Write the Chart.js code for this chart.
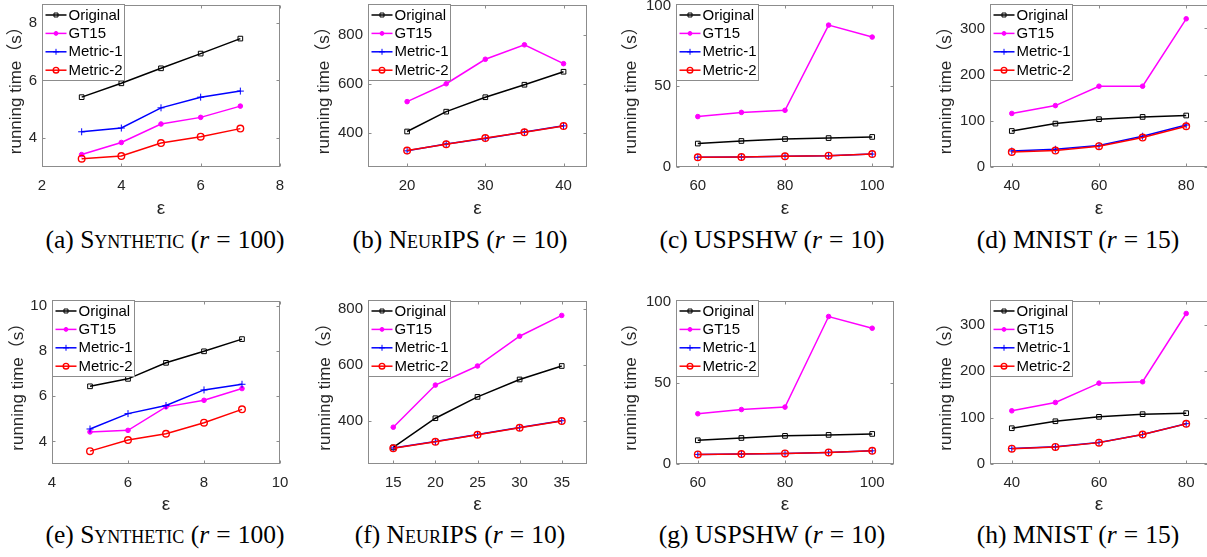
<!DOCTYPE html>
<html><head><meta charset="utf-8">
<script src="https://cdn.jsdelivr.net/npm/chart.js@4.4.0/dist/chart.umd.min.js"></script>
<style>
html,body{margin:0;padding:0;background:#fff;}
body{width:1207px;height:557px;overflow:hidden;position:relative;}
canvas{position:absolute;}
.cap{position:absolute;font-family:"Liberation Serif","Times New Roman",serif;font-size:25.5px;color:#000;white-space:nowrap;transform:translate(-50%,-50%);}
.sc{font-variant:small-caps;}
.eq{margin:0 0.28em;}
</style></head><body>
<div class="cap" style="left:165px;top:240px">(a) S<span class="sc">ynthetic</span> (<i>r</i><span class="eq">=</span>100)</div>
<div class="cap" style="left:460px;top:240px">(b) N<span class="sc">eur</span>IPS (<i>r</i><span class="eq">=</span>10)</div>
<div class="cap" style="left:772px;top:240px">(c) USPSHW (<i>r</i><span class="eq">=</span>10)</div>
<div class="cap" style="left:1078px;top:240px">(d) MNIST (<i>r</i><span class="eq">=</span>15)</div>
<div class="cap" style="left:165px;top:535px">(e) S<span class="sc">ynthetic</span> (<i>r</i><span class="eq">=</span>100)</div>
<div class="cap" style="left:460px;top:535px">(f) N<span class="sc">eur</span>IPS (<i>r</i><span class="eq">=</span>10)</div>
<div class="cap" style="left:772px;top:535px">(g) USPSHW (<i>r</i><span class="eq">=</span>10)</div>
<div class="cap" style="left:1078px;top:535px">(h) MNIST (<i>r</i><span class="eq">=</span>15)</div>
<script>
// ---------- data ----------
const seriesNames = ['Original', 'GT15', 'Metric-1', 'Metric-2'];

// (a) Synthetic r=100
const epsA = [3, 4, 5, 6, 7];
const origA = [5.42, 5.90, 6.42, 6.93, 7.45];
const gt15A = [3.43, 3.85, 4.49, 4.72, 5.11];
const met1A = [4.22, 4.35, 5.05, 5.42, 5.63];
const met2A = [3.29, 3.38, 3.83, 4.05, 4.33];
const xTicksA = [2, 4, 6, 8];
const yTicksA = [4, 6, 8];

// (b) NeurIPS r=10
const epsB = [20, 25, 30, 35, 40];
const origB = [405, 486, 545, 596, 649];
const gt15B = [527, 600, 700, 759, 682];
const met1B = [326, 354, 376, 403, 428];
const met2B = [327, 353, 378, 402, 427];
const xTicksB = [20, 30, 40];
const yTicksB = [400, 600, 800];

// (c) USPSHW r=10
const epsC = [60, 70, 80, 90, 100];
const origC = [14.5, 16.1, 17.3, 17.9, 18.6];
const gt15C = [31.2, 33.8, 35.1, 87.8, 80.4];
const met1C = [6.0, 6.2, 6.6, 7.0, 8.0];
const met2C = [6.0, 6.2, 6.6, 7.0, 8.0];
const xTicksC = [60, 80, 100];
const yTicksC = [0, 50, 100];

// (d) MNIST r=15
const epsD = [40, 50, 60, 70, 80];
const origD = [78, 94, 103.5, 108.5, 111.5];
const gt15D = [116, 133, 175, 175, 321];
const met1D = [34.7, 38.4, 46.4, 66.6, 91];
const met2D = [32.5, 35.6, 45, 63.8, 88.3];
const xTicksD = [40, 60, 80];
const yTicksD = [0, 100, 200, 300];

// (e) Synthetic r=100
const epsE = [5, 6, 7, 8, 9];
const origE = [6.44, 6.77, 7.48, 7.99, 8.53];
const gt15E = [4.42, 4.49, 5.53, 5.82, 6.34];
const met1E = [4.55, 5.23, 5.59, 6.28, 6.53];
const met2E = [3.57, 4.06, 4.34, 4.83, 5.42];
const xTicksE = [4, 6, 8, 10];
const yTicksE = [4, 6, 8, 10];

// (f) NeurIPS r=10
const epsF = [15, 20, 25, 30, 35];
const origF = [306, 410, 486, 548, 596];
const gt15F = [378, 528, 596, 702, 776];
const met1F = [304, 327, 352, 377, 401];
const met2F = [303, 326, 351, 376, 400];
const xTicksF = [15, 20, 25, 30, 35];
const yTicksF = [400, 600, 800];

// (g) USPSHW r=10
const epsG = [60, 70, 80, 90, 100];
const origG = [14.6, 16.0, 17.3, 17.9, 18.5];
const gt15G = [30.9, 33.5, 35.0, 90.7, 83.5];
const met1G = [5.9, 6.1, 6.5, 7.1, 8.1];
const met2G = [5.9, 6.1, 6.5, 7.1, 8.1];
const xTicksG = [60, 80, 100];
const yTicksG = [0, 50, 100];

// (h) MNIST r=15
const epsH = [40, 50, 60, 70, 80];
const origH = [77, 92, 101.5, 107.3, 109.5];
const gt15H = [114.5, 132.5, 174, 177, 324];
const met1H = [33.5, 37, 46.5, 63.5, 86.8];
const met2H = [33, 36.7, 46, 63.3, 86.4];
const xTicksH = [40, 60, 80];
const yTicksH = [0, 100, 200, 300];

// ---------- panels (data refs + axis ranges) ----------
const panels = [
  {eps: epsA, s: [origA, gt15A, met1A, met2A], xr: [2, 8], yr: [3, 8.6], xt: xTicksA, yt: yTicksA},
  {eps: epsB, s: [origB, gt15B, met1B, met2B], xr: [15, 43], yr: [260, 920], xt: xTicksB, yt: yTicksB},
  {eps: epsC, s: [origC, gt15C, met1C, met2C], xr: [55, 105], yr: [0, 100], xt: xTicksC, yt: yTicksC},
  {eps: epsD, s: [origD, gt15D, met1D, met2D], xr: [35, 85], yr: [0, 350], xt: xTicksD, yt: yTicksD},
  {eps: epsE, s: [origE, gt15E, met1E, met2E], xr: [4, 10], yr: [3, 10.2], xt: xTicksE, yt: yTicksE},
  {eps: epsF, s: [origF, gt15F, met1F, met2F], xr: [12, 38], yr: [247, 826], xt: xTicksF, yt: yTicksF},
  {eps: epsG, s: [origG, gt15G, met1G, met2G], xr: [55, 105], yr: [0, 100], xt: xTicksG, yt: yTicksG},
  {eps: epsH, s: [origH, gt15H, met1H, met2H], xr: [35, 85], yr: [0, 350], xt: xTicksH, yt: yTicksH}
];

// ---------- layout (page pixels) ----------
const layoutX = [
  {x0: 0,   L: 42,  R: 280},
  {x0: 308, L: 368, R: 587},
  {x0: 615, L: 676, R: 894},
  {x0: 930, L: 990, R: 1208},
  {x0: 2,   L: 52,  R: 280},
  {x0: 309, L: 368, R: 587},
  {x0: 615, L: 676, R: 894},
  {x0: 930, L: 990, R: 1208}
];
const rowY = [
  {y0: 0,   T: 5,   B: 167, H: 222},
  {y0: 296, T: 301, B: 464, H: 222}
];

const FONT = '"Liberation Sans", Arial, "Noto Sans CJK SC", sans-serif';
const TXT = '#262626';
const FRAME = '#8c8c8c';
const TL = 3;

const styles = [
  {color: '#000000', pointStyle: 'rect', radius: 3.3, pbw: 1, fill: 'rgba(0,0,0,0)'},
  {color: '#ff00ff', pointStyle: 'circle', radius: 2.3, pbw: 1, fill: '#ff00ff'},
  {color: '#0000ff', pointStyle: 'cross', radius: 3.5, pbw: 1, fill: '#0000ff'},
  {color: '#ff0000', pointStyle: 'circle', radius: 3.3, pbw: 1.4, fill: 'rgba(0,0,0,0)'}
];

const framePlugin = {
  id: 'matlabFrame',
  afterDatasetsDraw(chart) {
    const ctx = chart.ctx, a = chart.chartArea, x = chart.scales.x, y = chart.scales.y;
    const l = Math.round(a.left) + 0.5, r = Math.round(a.right) - 0.5;
    const t = Math.round(a.top) + 0.5, b = Math.round(a.bottom) - 0.5;
    ctx.save();
    ctx.strokeStyle = FRAME; ctx.lineWidth = 1;
    ctx.strokeRect(l, t, r - l, b - t);
    ctx.beginPath();
    x.ticks.forEach(tk => {
      const px = Math.round(x.getPixelForValue(tk.value)) + 0.5;
      ctx.moveTo(px, b); ctx.lineTo(px, b - TL);
      ctx.moveTo(px, t); ctx.lineTo(px, t + TL);
    });
    y.ticks.forEach(tk => {
      const py = Math.round(y.getPixelForValue(tk.value)) + 0.5;
      ctx.moveTo(l, py); ctx.lineTo(l + TL, py);
      ctx.moveTo(r, py); ctx.lineTo(r - TL, py);
    });
    ctx.stroke();
    ctx.restore();
  },
  afterDraw(chart) {
    const ctx = chart.ctx, a = chart.chartArea;
    const bx = Math.round(a.left) + 0.5, by = Math.round(a.top) - 0.5;
    const bw = 82, bh = 76;
    ctx.save();
    ctx.fillStyle = '#ffffff';
    ctx.fillRect(bx, by, bw, bh);
    ctx.strokeStyle = FRAME; ctx.lineWidth = 1;
    ctx.strokeRect(bx, by, bw, bh);
    chart.data.datasets.forEach((ds, i) => {
      const st = styles[i];
      const cy = by + 10.5 + i * 18.4;
      ctx.strokeStyle = st.color; ctx.lineWidth = 1.5;
      ctx.beginPath(); ctx.moveTo(bx + 3, cy); ctx.lineTo(bx + 24, cy); ctx.stroke();
      ctx.fillStyle = st.fill; ctx.strokeStyle = st.color; ctx.lineWidth = st.pbw;
      Chart.helpers.drawPoint(ctx, {pointStyle: st.pointStyle, radius: st.radius * 0.85, rotation: 0, borderWidth: st.pbw}, bx + 13.5, cy);
      ctx.fillStyle = '#000000';
      ctx.font = '15px ' + FONT;
      ctx.textBaseline = 'middle'; ctx.textAlign = 'left';
      ctx.fillText(ds.label, bx + 26, cy + 0.5);
    });
    ctx.restore();
  }
};

panels.forEach((p, idx) => {
  const lx = layoutX[idx], ry = rowY[idx < 4 ? 0 : 1];
  const w = lx.R - lx.x0 + 20;
  const c = document.createElement('canvas');
  c.width = w; c.height = ry.H;
  c.style.left = lx.x0 + 'px'; c.style.top = ry.y0 + 'px';
  c.style.width = w + 'px'; c.style.height = ry.H + 'px';
  document.body.appendChild(c);
  const yW = lx.L - lx.x0;
  const xH = ry.y0 + ry.H - ry.B;
  const datasets = p.s.map((vals, i) => ({
    label: seriesNames[i],
    data: p.eps.map((e, k) => ({x: e, y: vals[k]})),
    borderColor: styles[i].color,
    borderWidth: 1.5,
    pointStyle: styles[i].pointStyle,
    pointRadius: styles[i].radius,
    pointBorderWidth: styles[i].pbw,
    pointBorderColor: styles[i].color,
    pointBackgroundColor: styles[i].fill,
    tension: 0,
    fill: false,
    order: 3 - i
  }));
  new Chart(c, {
    type: 'line',
    data: {datasets},
    options: {
      responsive: false, animation: false, devicePixelRatio: 1,
      layout: {padding: {left: 0, top: ry.T - ry.y0, right: w - (lx.R - lx.x0), bottom: 0}},
      plugins: {legend: {display: false}, tooltip: {enabled: false}},
      events: [],
      scales: {
        x: {
          type: 'linear', min: p.xr[0], max: p.xr[1],
          grid: {display: false, drawTicks: false}, border: {display: false},
          ticks: {padding: 10, color: TXT, font: {family: FONT, size: 15}, maxRotation: 0, autoSkip: false},
          afterBuildTicks: s => { s.ticks = p.xt.map(v => ({value: v})); },
          afterFit: s => { s.height = xH; s.paddingLeft = 0; s.paddingRight = 0; },
          title: {display: true, text: 'ε', color: TXT, font: {family: FONT, size: 19}, padding: {top: 0, bottom: 2}}
        },
        y: {
          type: 'linear', min: p.yr[0], max: p.yr[1],
          grid: {display: false, drawTicks: false}, border: {display: false},
          ticks: {padding: 5, color: TXT, font: {family: FONT, size: 15}, autoSkip: false},
          afterBuildTicks: s => { s.ticks = p.yt.map(v => ({value: v})); },
          afterFit: s => { s.width = yW; s.paddingTop = 0; s.paddingBottom = 0; },
          title: {display: true, text: 'running time（s）', color: TXT, font: {family: FONT, size: 17}, padding: {top: 6, bottom: 0}}
        }
      }
    },
    plugins: [framePlugin]
  });
});
</script>
</body></html>
